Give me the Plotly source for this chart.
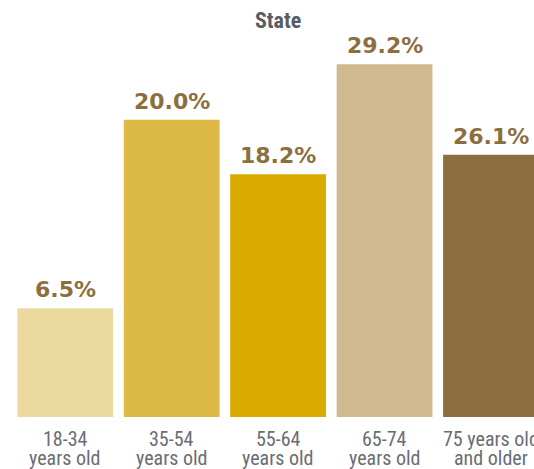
import plotly.graph_objects as go

cat_line1 = ["18-34", "35-54", "55-64", "65-74", "75 years old"]
cat_line2 = ["years old", "years old", "years old", "years old", "and older"]
pct_labels = ["6.5%", "20.0%", "18.2%", "29.2%", "26.1%"]
# bar heights as drawn in the picture (not proportional to the labels)
bar_heights = [9.0, 24.6, 20.1, 29.2, 21.7]
bar_colors = ["#ECD9A0", "#DDBA45", "#D9AA00", "#D0B98F", "#8C6F3E"]
title_text = "State"

xs = list(range(len(cat_line1)))
cond_font = "Liberation Sans Narrow, Roboto Condensed, Roboto"

fig = go.Figure()
fig.add_trace(go.Bar(
    x=xs, y=bar_heights,
    marker=dict(color=bar_colors, line=dict(width=0)),
    hoverinfo="skip",
))

for x, h, t in zip(xs, bar_heights, pct_labels):
    fig.add_annotation(
        x=x, y=h, xref="x", yref="y", text=t, showarrow=False,
        yanchor="bottom", yshift=4,
        font=dict(family="DejaVu Sans", size=22, color="#8C6F3E", weight="bold"),
    )

for x, l1, l2 in zip(xs, cat_line1, cat_line2):
    fig.add_annotation(
        x=x, y=0, xref="x", yref="paper", text=l1, showarrow=False,
        yanchor="top", yshift=-8,
        font=dict(family=cond_font, size=20, color="#6A6D73"),
    )
    fig.add_annotation(
        x=x, y=0, xref="x", yref="paper", text=l2, showarrow=False,
        yanchor="top", yshift=-27,
        font=dict(family=cond_font, size=20, color="#6A6D73"),
    )

fig.add_annotation(
    x=2, y=1, xref="x", yref="paper", text="<b>" + title_text + "</b>",
    showarrow=False, yanchor="top", yshift=-6,
    font=dict(family=cond_font, size=22, color="#585C63"),
)

fig.update_layout(
    template="none",
    width=534, height=469,
    margin=dict(l=11.75, r=0, t=0, b=52, pad=0),
    paper_bgcolor="white", plot_bgcolor="white",
    bargap=0.1, showlegend=False,
    xaxis=dict(
        range=[-0.5, 4.404], showticklabels=False, automargin=False,
        showgrid=False, zeroline=False, showline=False, ticks="",
        fixedrange=True,
    ),
    yaxis=dict(range=[0, 34.52], visible=False, automargin=False, fixedrange=True),
)

fig.write_html("out.html", config={"displayModeBar": False},
               post_script="document.body.style.margin='0';document.body.style.overflow='hidden';")
